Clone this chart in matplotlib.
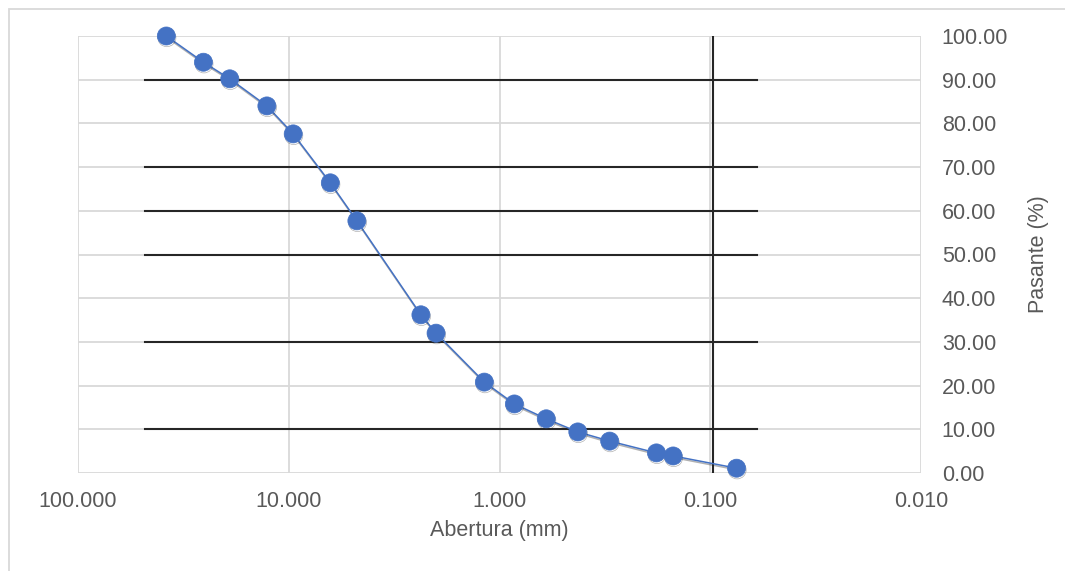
import numpy as np
import matplotlib.pyplot as plt
import matplotlib.patheffects as pe
from matplotlib.patches import Rectangle
from matplotlib.ticker import FixedLocator, FuncFormatter, NullLocator

plt.rcParams['font.family'] = ['Liberation Sans', 'DejaVu Sans']

# Curva granulométrica
abertura = [38.1, 25.4, 19.05, 12.7, 9.525, 6.35, 4.75, 2.36, 2.0, 1.18,
            0.85, 0.60, 0.425, 0.30, 0.18, 0.15, 0.075]
pasante = [100.0, 94.0, 90.2, 84.0, 77.6, 66.4, 57.7, 36.2, 32.0, 20.8,
           15.8, 12.4, 9.4, 7.3, 4.6, 3.9, 1.1]

x_ticks = [100, 10, 1, 0.1, 0.01]
y_ticks = list(range(0, 101, 10))

# lineas negras superpuestas en la imagen original
black_levels = [10, 30, 50, 60, 70, 90]
black_span = (48.0, 0.06)
black_vline = 0.097

gris = '#595959'
azul = '#4472C4'

fig = plt.figure(figsize=(10.65, 5.71), dpi=100)
ax = fig.add_axes([78/1065, 1 - 473/571, (921 - 78)/1065, (473 - 36)/571])

# borde del grafico
fig.patches.append(Rectangle((9/1065, -0.1), 1.2, 1 - 9/571 + 0.1,
                             transform=fig.transFigure, fill=False,
                             edgecolor='#d9d9d9', linewidth=1.3, zorder=0))

ax.set_xscale('log')
ax.set_xlim(100, 0.01)
ax.set_ylim(0, 100)
ax.xaxis.set_major_locator(FixedLocator(x_ticks))
ax.xaxis.set_minor_locator(NullLocator())
ax.xaxis.set_major_formatter(FuncFormatter(lambda v, p: f'{v:.3f}'))
ax.yaxis.set_major_locator(FixedLocator(y_ticks))
ax.yaxis.set_major_formatter(FuncFormatter(lambda v, p: f'{v:.2f}'))
ax.yaxis.tick_right()
ax.yaxis.set_label_position('right')

ax.grid(True, color='#d9d9d9', linewidth=1.3)
ax.set_axisbelow(True)
for s in ax.spines.values():
    s.set_visible(False)
ax.tick_params(length=0, labelsize=15.5, labelcolor=gris)
ax.tick_params(axis='x', pad=13)
ax.tick_params(axis='y', pad=15)

for lv in black_levels:
    ax.plot(black_span, [lv, lv], color='#262626', linewidth=1.5, zorder=1)
ax.plot([black_vline, black_vline], [0, 100], color='#262626', linewidth=1.5, zorder=1)

ax.plot(abertura, pasante, color=azul, linewidth=1.1, marker='o',
        markersize=13, markerfacecolor=azul, markeredgecolor=azul,
        markeredgewidth=0.5, zorder=3, clip_on=False,
        path_effects=[pe.SimpleLineShadow(offset=(0.4, -1.2), shadow_color='#222222', alpha=0.35),
                      pe.Normal()])

ax.set_xlabel('Abertura (mm)', fontsize=15.5, color=gris, labelpad=6)
ax.set_ylabel('Pasante (%)', fontsize=15.5, color=gris, labelpad=14)

fig.savefig('out.png', dpi=100)
